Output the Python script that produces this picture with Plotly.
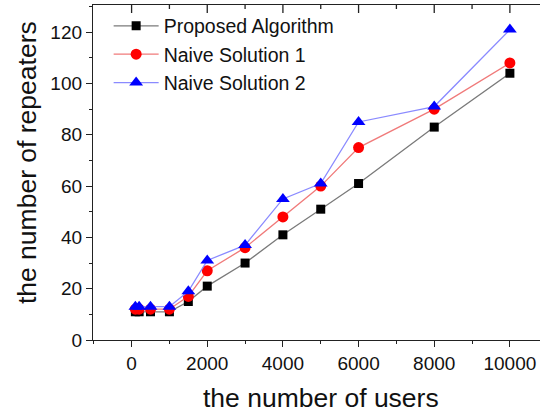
import plotly.graph_objects as go

users = [100, 200, 500, 1000, 1500, 2000, 3000, 4000, 5000, 6000, 8000, 10000]
proposed = [11, 11, 11, 11, 15, 21, 30, 41, 51, 61, 83, 104]
naive1 = [12, 12, 12, 12, 17, 27, 36, 48, 60, 75, 90, 108]
naive2 = [13, 13, 13, 13, 19, 31, 37, 55, 61, 85, 91, 121]
series_names = ["Proposed Algorithm", "Naive Solution 1", "Naive Solution 2"]
x_ticks = [0, 2000, 4000, 6000, 8000, 10000]
x_minor_ticks = [1000, 3000, 5000, 7000, 9000]
x_labels = ["0", "2000", "4000", "6000", "8000", "10000"]
y_ticks = [0, 20, 40, 60, 80, 100, 120]
y_labels = ["0", "20", "40", "60", "80", "100", "120"]

FONT = "Liberation Sans, Arial, sans-serif"
X_RANGE = [-1020, 10796]
AX = "#222222"
PLOT_H = 335  # plot-area height in px (413 - 5 - 73)

fig = go.Figure()
fig.add_trace(go.Scatter(x=users, y=proposed, name=series_names[0], mode="lines+markers",
                         line=dict(color="#7a7a7a", width=1.3),
                         marker=dict(symbol="square", size=9, color="black")))
fig.add_trace(go.Scatter(x=users, y=naive1, name=series_names[1], mode="lines+markers",
                         line=dict(color="#f07a7a", width=1.3),
                         marker=dict(symbol="circle", size=11, color="#ff0000")))
fig.add_trace(go.Scatter(x=users, y=naive2, name=series_names[2], mode="lines+markers",
                         line=dict(color="#8a8aff", width=1.3),
                         marker=dict(symbol="triangle-up", size=12, color="#0000ff")))

axis_common = dict(showline=True, linecolor=AX, linewidth=1.3, showgrid=False,
                   zeroline=False, tickcolor=AX, tickwidth=1.2,
                   tickfont=dict(family=FONT, size=19, color="#111111"))

# inward-pointing ticks on the top frame line (axis decoration, from the tick arrays)
top_ticks = [dict(type="line", xref="x", yref="paper", x0=v, x1=v, y0=1, y1=1 - 8 / PLOT_H,
                  layer="above", line=dict(color=AX, width=1.3)) for v in x_ticks]
top_ticks += [dict(type="line", xref="x", yref="paper", x0=v, x1=v, y0=1, y1=1 - 4 / PLOT_H,
                   layer="above", line=dict(color=AX, width=1.3)) for v in x_minor_ticks]

fig.update_layout(
    width=540, height=413,
    margin=dict(l=93, r=0, t=5, b=73),
    paper_bgcolor="white", plot_bgcolor="white",
    font=dict(family=FONT),
    xaxis=dict(range=X_RANGE, tickvals=x_ticks, ticktext=x_labels, ticks="outside", ticklen=6,
               minor=dict(dtick=1000, tick0=0, ticks="outside", ticklen=3, tickcolor=AX),
               mirror=True, **axis_common),
    yaxis=dict(range=[0, 130.6], tickvals=y_ticks, ticktext=y_labels, ticks="outside", ticklen=6,
               minor=dict(dtick=10, tick0=0, ticks="outside", ticklen=3, tickcolor=AX),
               **axis_common),
    shapes=top_ticks,
    legend=dict(x=0.035, y=0.995, xanchor="left", yanchor="top",
                font=dict(family=FONT, size=19.5, color="#111111"),
                bgcolor="rgba(0,0,0,0)", tracegroupgap=0, itemwidth=45),
    showlegend=True,
    annotations=[
        dict(text="the number of users", xref="paper", yref="paper", x=0.5096, y=-0.173,
             xanchor="center", yanchor="middle", showarrow=False,
             font=dict(family=FONT, size=26.5, color="#111111")),
        dict(text="the number of repeaters", xref="paper", yref="paper", x=-0.1477, y=0.531,
             xanchor="center", yanchor="middle", showarrow=False, textangle=-90,
             font=dict(family=FONT, size=26.5, color="#111111")),
    ],
)

fig.write_html("out.html")
